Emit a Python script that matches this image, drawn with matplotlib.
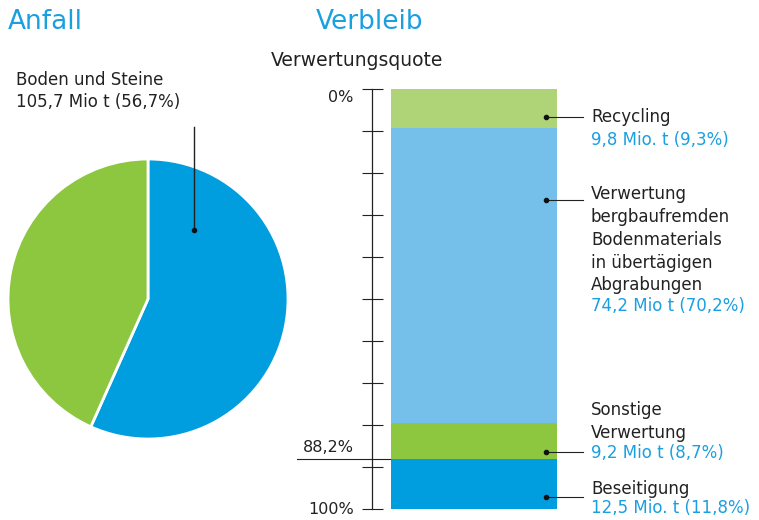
import matplotlib
matplotlib.use("Agg")
import matplotlib.pyplot as plt

# Anfall (pie)
pie_shares = [56.7, 43.3]
pie_colors = ["#009ddf", "#8dc63f"]
pie_label = ["Boden und Steine", "105,7 Mio t (56,7%)"]

# Verbleib (stacked bar, percent from top)
bar_names = ["Recycling", "Verwertung", "Sonstige", "Beseitigung"]
bar_shares = [9.3, 70.2, 8.7, 11.8]
bar_colors = ["#aed477", "#74c0ea", "#8dc63f", "#009ddf"]
label_black = [["Recycling"],
               ["Verwertung", "bergbaufremden", "Bodenmaterials", "in übertägigen", "Abgrabungen"],
               ["Sonstige", "Verwertung"],
               ["Beseitigung"]]
label_blue = ["9,8 Mio. t (9,3%)", "74,2 Mio t (70,2%)", "9,2 Mio t (8,7%)", "12,5 Mio. t (11,8%)"]
quote = 88.2
tick_steps = list(range(0, 101, 10))

W, H = 759, 520
BLUE_TXT = "#1a9fe0"
fig = plt.figure(figsize=(W / 100, H / 100), dpi=100)


def fx(x):
    return x / W


def fy(y):
    return 1 - y / H


def txt(x, y, s, **kw):
    kw.setdefault("va", "center")
    kw.setdefault("ha", "left")
    fig.text(fx(x), fy(y), s, **kw)


# titles
txt(8, 22, "Anfall", color=BLUE_TXT, fontsize=19)
txt(316, 22, "Verbleib", color=BLUE_TXT, fontsize=19)
txt(271, 60, "Verwertungsquote", color="#222222", fontsize=13.5)

# pie
axp = fig.add_axes([fx(8), fy(439), 280 / W, 280 / H])
axp.pie(pie_shares, colors=pie_colors, startangle=90, counterclock=False,
        wedgeprops=dict(edgecolor="white", linewidth=2))
axp.set_xlim(-1, 1)
axp.set_ylim(-1, 1)
axp.set_aspect("equal")
axp.axis("off")
axp.plot([0.33, 0.33], [0.49, 1.23], color="#222222", lw=1, clip_on=False)
axp.plot(0.33, 0.49, "o", color="#111111", ms=3, clip_on=False)
txt(16, 80, pie_label[0], color="#222222", fontsize=12)
txt(16, 102, pie_label[1], color="#222222", fontsize=12)

# stacked bar
axb = fig.add_axes([fx(391), fy(509), 166 / W, 420 / H])
bottom = 0
for val, col in zip(bar_shares, bar_colors):
    axb.bar(0.5, val, bottom=bottom, width=1, color=col, linewidth=0)
    bottom += val
axb.set_xlim(0, 1)
axb.set_ylim(100, 0)
for s in ["top", "right", "bottom"]:
    axb.spines[s].set_visible(False)
axb.spines["left"].set_position(("outward", 19 * 0.72))
axb.spines["left"].set_color("#222222")
axb.spines["left"].set_linewidth(0.9)
axb.set_xticks([])
axb.set_yticks(tick_steps)
axb.set_yticklabels([])
axb.tick_params(axis="y", direction="inout", length=21 * 0.72, width=0.8, color="#222222")

ytr = axb.get_yaxis_transform()
axb.text(-0.225, 2.0, "0%", transform=ytr, ha="right", va="center", fontsize=11.5, color="#222222")
axb.text(-0.225, 100, "100%", transform=ytr, ha="right", va="center", fontsize=11.5, color="#222222")
axb.text(-0.225, quote - 2.9, "88,2%", transform=ytr, ha="right", va="center", fontsize=11.5, color="#222222")
axb.plot([-0.566, -0.006], [quote, quote], transform=ytr, color="#222222", lw=0.8, clip_on=False)

# labels on the right
rows_y = [[117], [194, 217, 240, 263, 285], [410, 433], [489]]
blue_y = [140, 306, 453, 508]
dot_y = [117, 200, 452, 497]
for blk, bl, ry, by, dy in zip(label_black, label_blue, rows_y, blue_y, dot_y):
    for s, y in zip(blk, ry):
        txt(591, y, s, color="#222222", fontsize=12)
    txt(591, by, bl, color=BLUE_TXT, fontsize=12)
    yd = (dy - 89) / 420 * 100
    axb.plot([0.934, 1.157], [yd, yd], color="#222222", lw=0.8, clip_on=False)
    axb.plot(0.934, yd, "o", color="#111111", ms=3, clip_on=False)

fig.savefig("out.png", dpi=100)
